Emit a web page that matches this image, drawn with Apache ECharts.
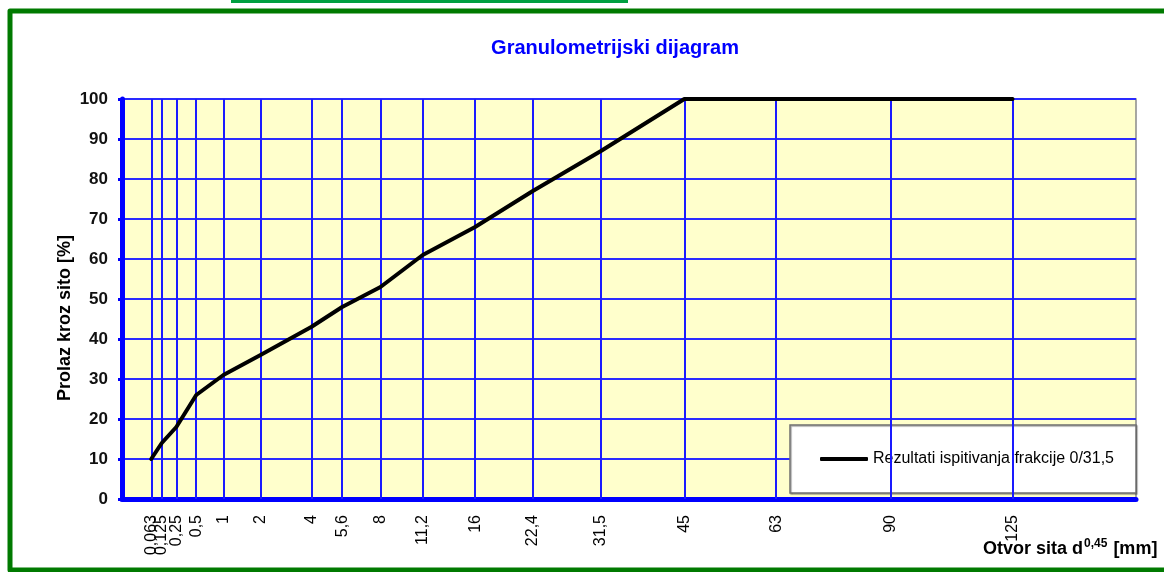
<!DOCTYPE html>
<html>
<head>
<meta charset="utf-8">
<script src="https://cdn.jsdelivr.net/npm/echarts@6/dist/echarts.min.js"></script>
<style>
  html, body { margin: 0; padding: 0; background: #ffffff; }
  #chart { width: 1164px; height: 572px; }
</style>
</head>
<body>
<div id="chart"></div>
<script>
// Sieve openings [mm] and their printed labels
const sieves = [0.063, 0.125, 0.25, 0.5, 1, 2, 4, 5.6, 8, 11.2, 16, 22.4, 31.5, 45, 63, 90, 125];
const sieveLabels = ['0,063', '0,125', '0,25', '0,5', '1', '2', '4', '5,6', '8', '11,2', '16', '22,4', '31,5', '45', '63', '90', '125'];
// Passing through each sieve [%]
const passing = [10, 14, 18, 26, 31, 36, 43, 48, 53, 61, 68, 77, 87, 100, 100, 100, 100];
const yTicks = [0, 10, 20, 30, 40, 50, 60, 70, 80, 90, 100];

const seriesName = 'Rezultati ispitivanja frakcije 0/31,5';
const EXP = 0.45; // x axis is drawn on a d^0.45 scale
const toAxis = d => Math.pow(d, EXP);
const axisPos = sieves.map(toAxis);
const FONT = 'Liberation Sans, Arial';

function sieveLabel(v) {
  let best = 0;
  for (let i = 0; i < axisPos.length; i++) {
    if (Math.abs(axisPos[i] - v) < Math.abs(axisPos[best] - v)) best = i;
  }
  return sieveLabels[best];
}

// labels split over two axes so the two crowded smallest sieves both show
const evenPos = axisPos.filter((v, i) => i % 2 === 0);
const oddPos = axisPos.filter((v, i) => i % 2 === 1);

function sieveAxis(values, withLine) {
  return {
    type: 'value', min: 0, max: 10, position: 'bottom', gridIndex: 0,
    axisLine: { show: withLine, onZero: false, lineStyle: { color: '#0000ff', width: 5 } },
    axisTick: { show: false },
    splitLine: { show: false },
    axisLabel: {
      customValues: values,
      rotate: 90, margin: 16, hideOverlap: false,
      color: '#000000', fontFamily: FONT, fontSize: 16,
      formatter: sieveLabel
    }
  };
}

const chart = echarts.init(document.getElementById('chart'));

chart.setOption({
  animation: false,
  backgroundColor: '#ffffff',
  title: {
    text: 'Granulometrijski dijagram',
    left: 610, top: 33, textAlign: 'center',
    textStyle: { color: '#0000ff', fontFamily: FONT, fontWeight: 'bold', fontSize: 20 }
  },
  grid: {
    left: 122, right: 28, top: 99, bottom: 73,
    show: true, backgroundColor: '#ffffcc', borderColor: '#8a8a8a', borderWidth: 1.5
  },
  legend: {
    data: [{ name: seriesName, icon: 'roundRect' }],
    left: 790, top: 425,
    orient: 'horizontal',
    itemWidth: 48, itemHeight: 4, itemGap: 4,
    padding: [26, 22, 26, 30],
    backgroundColor: '#ffffff',
    borderColor: '#707070', borderWidth: 1.5,
    shadowColor: 'rgba(0,0,0,0.35)', shadowOffsetX: 1, shadowOffsetY: 1, shadowBlur: 1,
    textStyle: { color: '#000000', fontFamily: FONT, fontSize: 16, padding: [0, 0, 0, 0] }
  },
  xAxis: [sieveAxis(evenPos, true), sieveAxis(oddPos, false)],
  yAxis: {
    type: 'value', min: 0, max: 100, interval: 10,
    axisLine: { show: true, lineStyle: { color: '#0000ff', width: 5 } },
    axisTick: { show: true, length: 4, lineStyle: { color: '#0000ff', width: 3 } },
    splitLine: { show: true, lineStyle: { color: '#2a2aff', width: 2 } },
    axisLabel: {
      margin: 14, color: '#111111', fontFamily: FONT, fontWeight: 'bold', fontSize: 17,
      customValues: yTicks
    }
  },
  series: [{
    name: seriesName,
    type: 'line',
    xAxisIndex: 0,
    data: sieves.map((d, i) => [toAxis(d), passing[i]]),
    showSymbol: false,
    symbol: 'none',
    color: '#000000',
    lineStyle: { color: '#000000', width: 4, cap: 'round', join: 'round' },
    z: 5,
    markLine: {
      silent: true, symbol: 'none',
      label: { show: false },
      lineStyle: { color: '#1a1aff', width: 2, type: 'solid' },
      data: axisPos.map(v => ({ xAxis: v }))
    }
  }],
  graphic: [
    // outer green frame
    { type: 'polyline', z: 100,
      shape: { points: [[1170, 11], [10, 11], [10, 570], [1170, 570]] },
      style: { stroke: '#007a00', lineWidth: 5, fill: null, lineJoin: 'round' } },
    // green strip at the top edge
    { type: 'rect', z: 100,
      shape: { x: 231, y: -2, width: 397, height: 5 },
      style: { fill: '#00a040' } },
    // y axis title
    { type: 'text', z: 100, x: 65, y: 318, rotation: Math.PI / 2,
      style: {
        text: 'Prolaz kroz sito [%]', align: 'center', verticalAlign: 'middle',
        fontFamily: FONT, fontWeight: 'bold', fontSize: 18, fill: '#000000'
      } },
    // x axis title with superscript exponent
    { type: 'text', z: 100, left: 983, top: 538,
      style: {
        text: '{b|Otvor sita d}{s|0,45}{b| [mm]}',
        rich: {
          b: { fontFamily: FONT, fontWeight: 'bold', fontSize: 18, fill: '#000000', verticalAlign: 'bottom', lineHeight: 22 },
          s: { fontFamily: FONT, fontWeight: 'bold', fontSize: 12, fill: '#000000', verticalAlign: 'bottom', padding: [0, 1, 8, 1], lineHeight: 22 }
        }
      } }
  ]
});
</script>
</body>
</html>
